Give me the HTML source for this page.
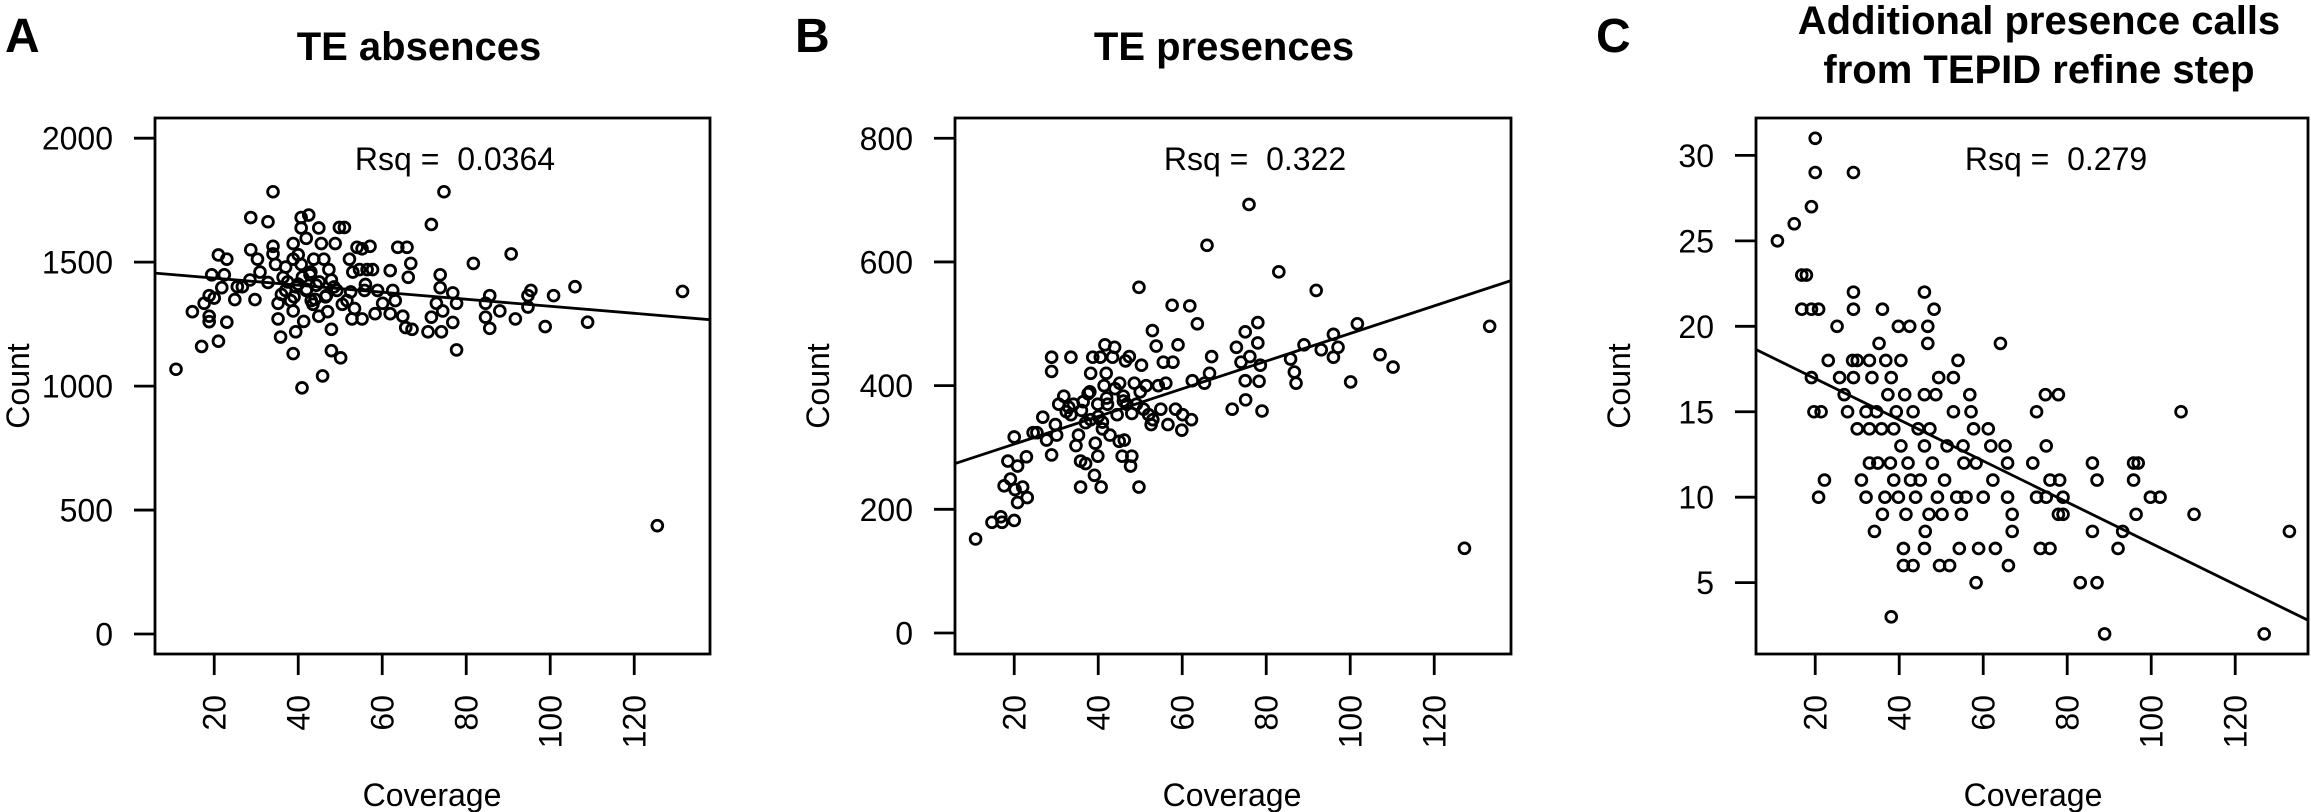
<!DOCTYPE html>
<html><head><meta charset="utf-8"><style>
html,body{margin:0;padding:0;background:#fff;}
svg{display:block;font-family:"Liberation Sans",Arial,sans-serif;}
</style></head><body>
<svg id="fig" width="2311" height="812" viewBox="0 0 2311 812" xmlns="http://www.w3.org/2000/svg"></svg>
<script>
// Panel A: TE absences
const aCoverage=[10.9,14.8,17,18.8,18.8,17.6,18.8,19.4,20,21,23,21,21.8,22.4,23,24.9,25.5,26.7,28.5,28.7,28.7,29.7,30.3,30.9,32.8,32.8,34,34,34,34.6,35.2,35.2,35.8,36.4,37,38.2,38.8,38.8,38.8,38.8,39.4,40,40.7,40.7,40.7,40.9,41.3,41.9,41.9,42.5,42.8,43.1,43.7,44.3,44.9,44.9,45.5,45.8,46.1,46.7,47.3,47.9,47.9,47.9,48.8,49.2,49.8,50.1,51,51.6,52.2,52.8,53.4,54,54.6,55.2,55.2,55.8,56.4,57.1,57.7,58.3,58.9,60.1,61.9,61.9,62.5,63.1,63.7,64.9,65.9,66.2,66.8,67.1,65.6,70.9,71.7,71.7,72.9,73.8,73.8,74.1,74.7,74.4,76.8,76.8,77.7,77.7,81.7,84.6,84.6,85.6,85.6,88,90.7,91.7,94.7,94.7,95.4,98.8,100.8,105.9,108.9,125.5,131.5,36,37.5,39,41,42,43.5,45,46.5,48.5,50.5,52.5,37,39.5,44,47,53,56,40,43];
const aCount=[1068,1300,1160,1282,1260,1334,1365,1449,1355,1529,1512,1181,1397,1449,1258,1349,1401,1401,1428,1680,1550,1349,1512,1460,1663,1418,1784,1564,1533,1491,1334,1271,1198,1439,1386,1345,1575,1512,1303,1131,1219,1411,1680,1638,1491,993,1261,1596,1386,1690,1449,1345,1512,1407,1638,1282,1575,1041,1512,1365,1470,1428,1229,1143,1575,1386,1640,1114,1640,1345,1512,1271,1313,1560,1470,1554,1271,1386,1470,1564,1470,1292,1386,1334,1466,1292,1386,1345,1560,1282,1560,1439,1495,1229,1236,1219,1652,1278,1334,1449,1397,1219,1784,1303,1376,1257,1146,1334,1495,1334,1278,1365,1233,1303,1533,1271,1365,1319,1386,1240,1365,1401,1258,437,1382,1370,1420,1360,1440,1390,1330,1420,1360,1400,1330,1380,1480,1400,1350,1300,1460,1410,1530,1460];
const aLine=[1464,-1.42]; // intercept, slope
const aYTicks=[0,500,1000,1500,2000];
// Panel B: TE presences
const bCoverage=[10.8,14.7,16.8,17.1,18.5,17.6,19.1,20,20,20.2,20.8,20.8,22,22.9,23.1,24.5,25.4,26.8,27.7,28.9,28.9,28.9,29.8,30.1,30.6,31.8,32.4,33.5,33.5,34.1,34.7,35.3,35.8,35.8,36.4,37,37.6,38.2,38.2,38.7,39.1,39.3,39.9,39.9,40.5,40.7,41,41.4,41.6,41.9,42.2,42.8,43.4,43.9,44.5,45.1,45.7,46,46.2,46.5,46.8,47.4,47.7,48,48.6,49.1,49.7,49.7,50.3,50.8,51.4,52,52.6,52.9,53.8,54.3,54.9,55.5,56.1,56.6,57.6,57.8,58.4,59,59.9,60.1,61.8,62.2,62.4,63.6,65.3,65.9,66.5,67,71.9,72.9,74,75,75,75.1,75.9,76.1,78,78,78.3,78.6,79,83,85.8,86.7,87.1,89,91.9,93.1,96,96,97.1,100.1,101.7,107.1,110.2,127.2,133.2,36,38,40,42,44,46,48,33,37,41,45,50,53];
const bCount=[152,179,188,179,278,238,249,182,317,232,270,211,236,285,219,324,324,349,312,446,423,288,337,320,370,383,358,446,353,370,303,320,278,236,374,274,387,420,345,446,255,307,286,370,446,236,341,400,466,420,370,320,446,462,353,404,286,383,312,440,370,447,270,286,404,370,559,236,433,362,400,353,337,489,464,400,362,438,404,337,530,438,362,466,328,353,529,345,408,500,404,627,420,447,362,462,438,487,408,377,693,447,502,469,407,433,359,584,443,422,404,466,554,458,483,446,462,406,500,450,430,137,496,360,390,350,380,395,375,355,365,340,330,310,390,345];
const bLine=[260.8,2.235];
const bYTicks=[0,200,400,600,800];
// Panel C: additional presence calls
const cCoverage=[11,15,16.8,17.9,16.8,19.1,20.8,19.1,20,20,19.1,19.7,21.4,20.8,22.2,23.1,25.2,25.8,26.9,27.7,29.1,29.1,29.1,28.9,29.1,30,30,31,32.1,32.1,32.9,32.9,32.9,33.5,34.1,34.6,34.9,35.2,35.8,36,36,36.6,36.8,37.3,37.9,38.1,38.1,38.7,38.7,39.3,39.8,39.8,40.4,40.4,41,41,41.3,41.6,42.1,42.5,42.7,43.3,43.3,43.9,44.5,45,46,46,46,46,46.2,46.8,46.8,47.1,47.3,47.9,48.3,48.7,49.1,49.4,49.6,50.2,50.8,51.4,52,52.9,52.9,53.7,54,54.3,54.8,55.2,55.4,55.9,56.8,57.1,57.7,58.3,58.3,58.9,60,61.2,61.8,62.3,62.9,64.1,65.2,65.8,65.8,66,66.9,66.9,71.8,72.7,72.7,73.6,74.8,75,75,75.9,75.9,77.9,77.9,78.2,79,79,83.1,86,86,87.1,87.1,88.9,92.1,93.2,95.8,96.9,95.8,96.4,99.8,102.1,107.1,110.2,126.9,132.9];
const cCount=[25,26,23,23,21,21,21,27,31,29,17,15,15,10,11,18,20,17,16,15,29,22,21,18,17,18,14,11,10,15,18,14,12,17,8,15,12,19,14,21,9,10,18,16,12,3,17,14,11,15,20,10,18,13,7,6,16,9,12,20,11,15,6,10,14,11,22,16,13,7,8,20,19,9,14,12,21,16,10,17,6,9,11,13,6,17,15,10,18,7,9,13,12,10,16,15,14,5,12,7,10,14,13,11,7,19,13,10,12,6,9,8,12,15,10,7,16,13,10,7,11,16,9,11,10,9,5,12,8,11,5,2,7,8,12,12,11,9,10,10,15,9,2,8];
const cLine=[19.35,-0.1205];
const cYTicks=[5,10,15,20,25,30];
const xTicks=[20,40,60,80,100,120];

const NS="http://www.w3.org/2000/svg";
const svg=document.getElementById('fig');
function mk(tag,attrs,parent){const e=document.createElementNS(NS,tag);for(const k in attrs)e.setAttribute(k,attrs[k]);(parent||svg).appendChild(e);return e;}

const panels=[
 {key:'a',letter:'A',lx:5,title:['TE absences'],tx:419,L:155,R:710,y0:634,k:0.2479,xs:aCoverage,ys:aCount,line:aLine,yt:aYTicks,rsq:'Rsq =\u00a0 0.0364'},
 {key:'b',letter:'B',lx:795,title:['TE presences'],tx:1224,L:955,R:1511,y0:633,k:0.6184,xs:bCoverage,ys:bCount,line:bLine,yt:bYTicks,rsq:'Rsq =\u00a0 0.322'},
 {key:'c',letter:'C',lx:1596,title:['Additional presence calls','from TEPID refine step'],tx:2039,L:1756,R:2308,y0:668.1,k:17.09,xs:cCoverage,ys:cCount,line:cLine,yt:cYTicks,rsq:'Rsq =\u00a0 0.279'}
];
const TOP=118,BOT=654,XMIN=5.9,XK=4.2;

panels.forEach(p=>{
  const g=mk('g',{});
  
  
  const sx=x=>p.L+(x-XMIN)*XK;
  const sy=y=>p.y0-y*p.k;
  const xMax=XMIN+(p.R-p.L)/XK;
  const lt=mk('text',{x:p.lx,y:52,'font-size':48,'font-weight':'bold'},g);
  lt.textContent=p.letter;
  
  
  const tl=p.title.length===1?[60]:[34,83];
  p.title.forEach((t,i)=>{
    const te=mk('text',{x:p.tx,y:tl[i],'font-size':40,'font-weight':'bold','text-anchor':'middle'},g);
    te.textContent=t;
    
    
  });
  const fr=mk('rect',{x:p.L,y:TOP,width:p.R-p.L,height:BOT-TOP,fill:'none',stroke:'#000','stroke-width':2.8},g);
  
  
  p.yt.forEach(v=>{
    const y=sy(v);
    const tk=mk('line',{x1:p.L-21,x2:p.L,y1:y,y2:y,stroke:'#000','stroke-width':2.8},g);
    
    
    const tx=mk('text',{x:p.L-42,y:y+11.5,'font-size':32,'text-anchor':'end'},g);
    tx.textContent=String(v);
    
    
  });
  xTicks.forEach(v=>{
    const x=sx(v);
    const tk=mk('line',{x1:x,x2:x,y1:BOT,y2:BOT+21,stroke:'#000','stroke-width':2.8},g);
    
    
    const tx=mk('text',{x:0,y:0,'font-size':32,'text-anchor':'end',transform:'translate('+(x+11.5)+',695) rotate(-90)'},g);
    tx.textContent=String(v);
    
    
  });
  const yl=mk('text',{x:0,y:0,'font-size':32,'text-anchor':'middle',transform:'translate('+(p.L-126)+',386) rotate(-90)'},g);
  yl.textContent='Count';
  
  
  const xl=mk('text',{x:p.L+277,y:806,'font-size':32,'text-anchor':'middle'},g);
  xl.textContent='Coverage';
  
  
  const rq=mk('text',{x:p.L+300,y:170,'font-size':32,'text-anchor':'middle'},g);
  rq.textContent=p.rsq;
  
  
  const cp=mk('clipPath',{id:'clip-'+p.key},g);
  mk('rect',{x:p.L,y:TOP,width:p.R-p.L,height:BOT-TOP},cp);
  const pg=mk('g',{'clip-path':'url(#clip-'+p.key+')'},g);
  
  
  for(let i=0;i<p.xs.length;i++){
    const c=mk('circle',{cx:sx(p.xs[i]),cy:sy(p.ys[i]),r:5.4,fill:'none',stroke:'#000','stroke-width':2.8},pg);
    
    
  }
  const f=x=>p.line[0]+p.line[1]*x;
  const ln=mk('line',{x1:sx(XMIN),y1:sy(f(XMIN)),x2:sx(xMax),y2:sy(f(xMax)),stroke:'#000','stroke-width':2.8,'clip-path':'url(#clip-'+p.key+')'},g);
  
  
});
</script>
</body></html>
